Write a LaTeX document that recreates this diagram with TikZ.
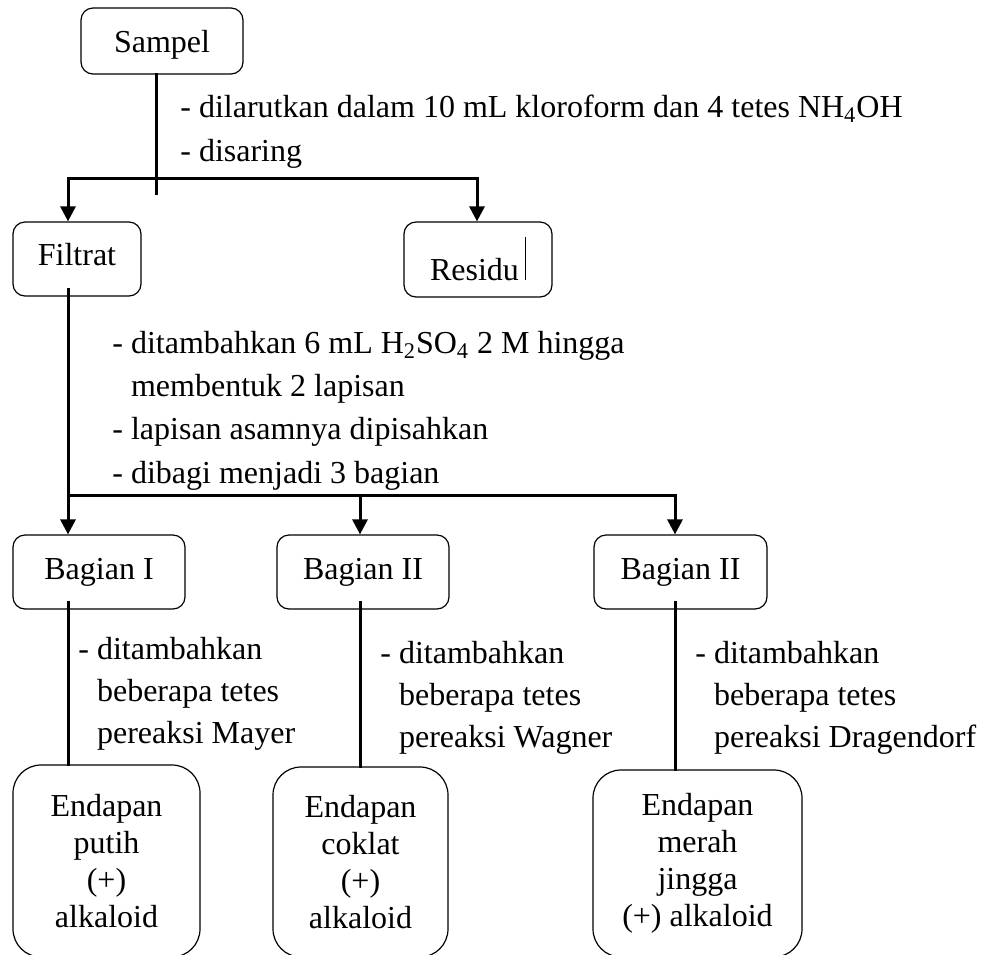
\documentclass[tikz,border=0pt]{standalone}
\usepackage{fontspec}
\setmainfont{Liberation Serif}
\usetikzlibrary{arrows.meta,positioning}

\begin{document}
\begin{tikzpicture}[x=0.5pt,y=-0.5pt,
  font=\fontsize{16pt}{21.6pt}\selectfont,
  kotak/.style={draw,line width=0.6pt,rounded corners=6pt,inner sep=0pt,
    text height=11pt,text depth=4pt},
  hasil/.style={draw,line width=0.6pt,rounded corners=14pt,inner sep=0pt,
    align=center,font=\fontsize{16pt}{18.5pt}\selectfont},
  garis/.style={line width=1.5pt,line cap=rect},
  panah/.style={garis,-{Triangle[length=7.5pt,width=7.5pt]}},
  ket/.style={anchor=base west,inner sep=0pt,align=left}]
  \clip (0,0) rectangle (982,955);
  % kotak-kotak
  \node[kotak,minimum width=81pt,minimum height=33pt,text depth=0pt] (sampel) at (162,41) {Sampel};
  \node[kotak,minimum width=64pt,minimum height=37pt,text depth=5pt] (filtrat) at (77,259) {Filtrat};
  \node[kotak,minimum width=74pt,minimum height=37.5pt,text height=20.5pt,text depth=0pt] (residu) at (478,259.5)
    {Residu\hspace{3pt}\rule{0.5pt}{21.5pt}};
  \node[kotak,minimum width=86pt,minimum height=37pt] (bagian1) at (99,572) {Bagian I};
  \node[kotak,minimum width=86pt,minimum height=37pt] (bagian2) at (363,572) {Bagian II};
  \node[kotak,minimum width=86.5pt,minimum height=37pt] (bagian3) at (680.5,572) {Bagian II};
  \node[hasil,minimum width=93.5pt,minimum height=96pt] (endapan1) at (106.5,861)
    {Endapan\\putih\\(+)\\alkaloid};
  \node[hasil,minimum width=87.5pt,minimum height=95pt] (endapan2) at (360.5,862)
    {Endapan\\coklat\\(+)\\alkaloid};
  \node[hasil,minimum width=104.5pt,minimum height=93.5pt] (endapan3) at (697.5,863.5)
    {Endapan\\merah\\jingga\\(+) alkaloid};
  % keterangan (base = baris terakhir)
  \node[ket] (ket1) at (180,161) {- dilarutkan dalam 10 mL kloroform dan 4 tetes NH\textsubscript{4}OH\\- disaring};
  \node[ket] (ket2) at (112,483) {- ditambahkan 6 mL H\textsubscript{2}SO\textsubscript{4} 2 M hingga\\
    \hphantom{- }membentuk 2 lapisan\\- lapisan asamnya dipisahkan\\- dibagi menjadi 3 bagian};
  \foreach \n/\x/\y/\pr in {a/78/743/Mayer,b/380/747/Wagner,c/695/747/Dragendorf}
    \node[ket,font=\fontsize{16pt}{20.8pt}\selectfont] (ket3\n) at (\x,\y)
      {- ditambahkan\\\hphantom{- }beberapa tetes\\\hphantom{- }pereaksi \pr};
  % garis
  \coordinate (c1) at (156,178);
  \coordinate (c2) at (68,178);
  \coordinate (c3) at (477,178);
  \draw[garis] (sampel.south -| c1) -- ++(0,119);
  \draw[garis] (c2) -- (c3);
  \draw[panah] (c2) -- (c2 |- filtrat.north);
  \draw[panah] (c3) -- (c3 |- residu.north);
  \coordinate (d1) at (68,495);
  \coordinate (d2) at (360,495);
  \coordinate (d3) at (675,495);
  \draw[panah,shorten <=-3.5pt] (filtrat.south -| d1) -- (d1 |- bagian1.north);
  \draw[garis] (d1) -- (d3);
  \draw[panah] (d2) -- (d2 |- bagian2.north);
  \draw[panah] (d3) -- (d3 |- bagian3.north);
  \foreach \i in {1,2,3}
    \draw[garis,shorten <=-3.5pt] (bagian\i.south -| d\i) -- (endapan\i.north -| d\i);
\end{tikzpicture}
\end{document}
